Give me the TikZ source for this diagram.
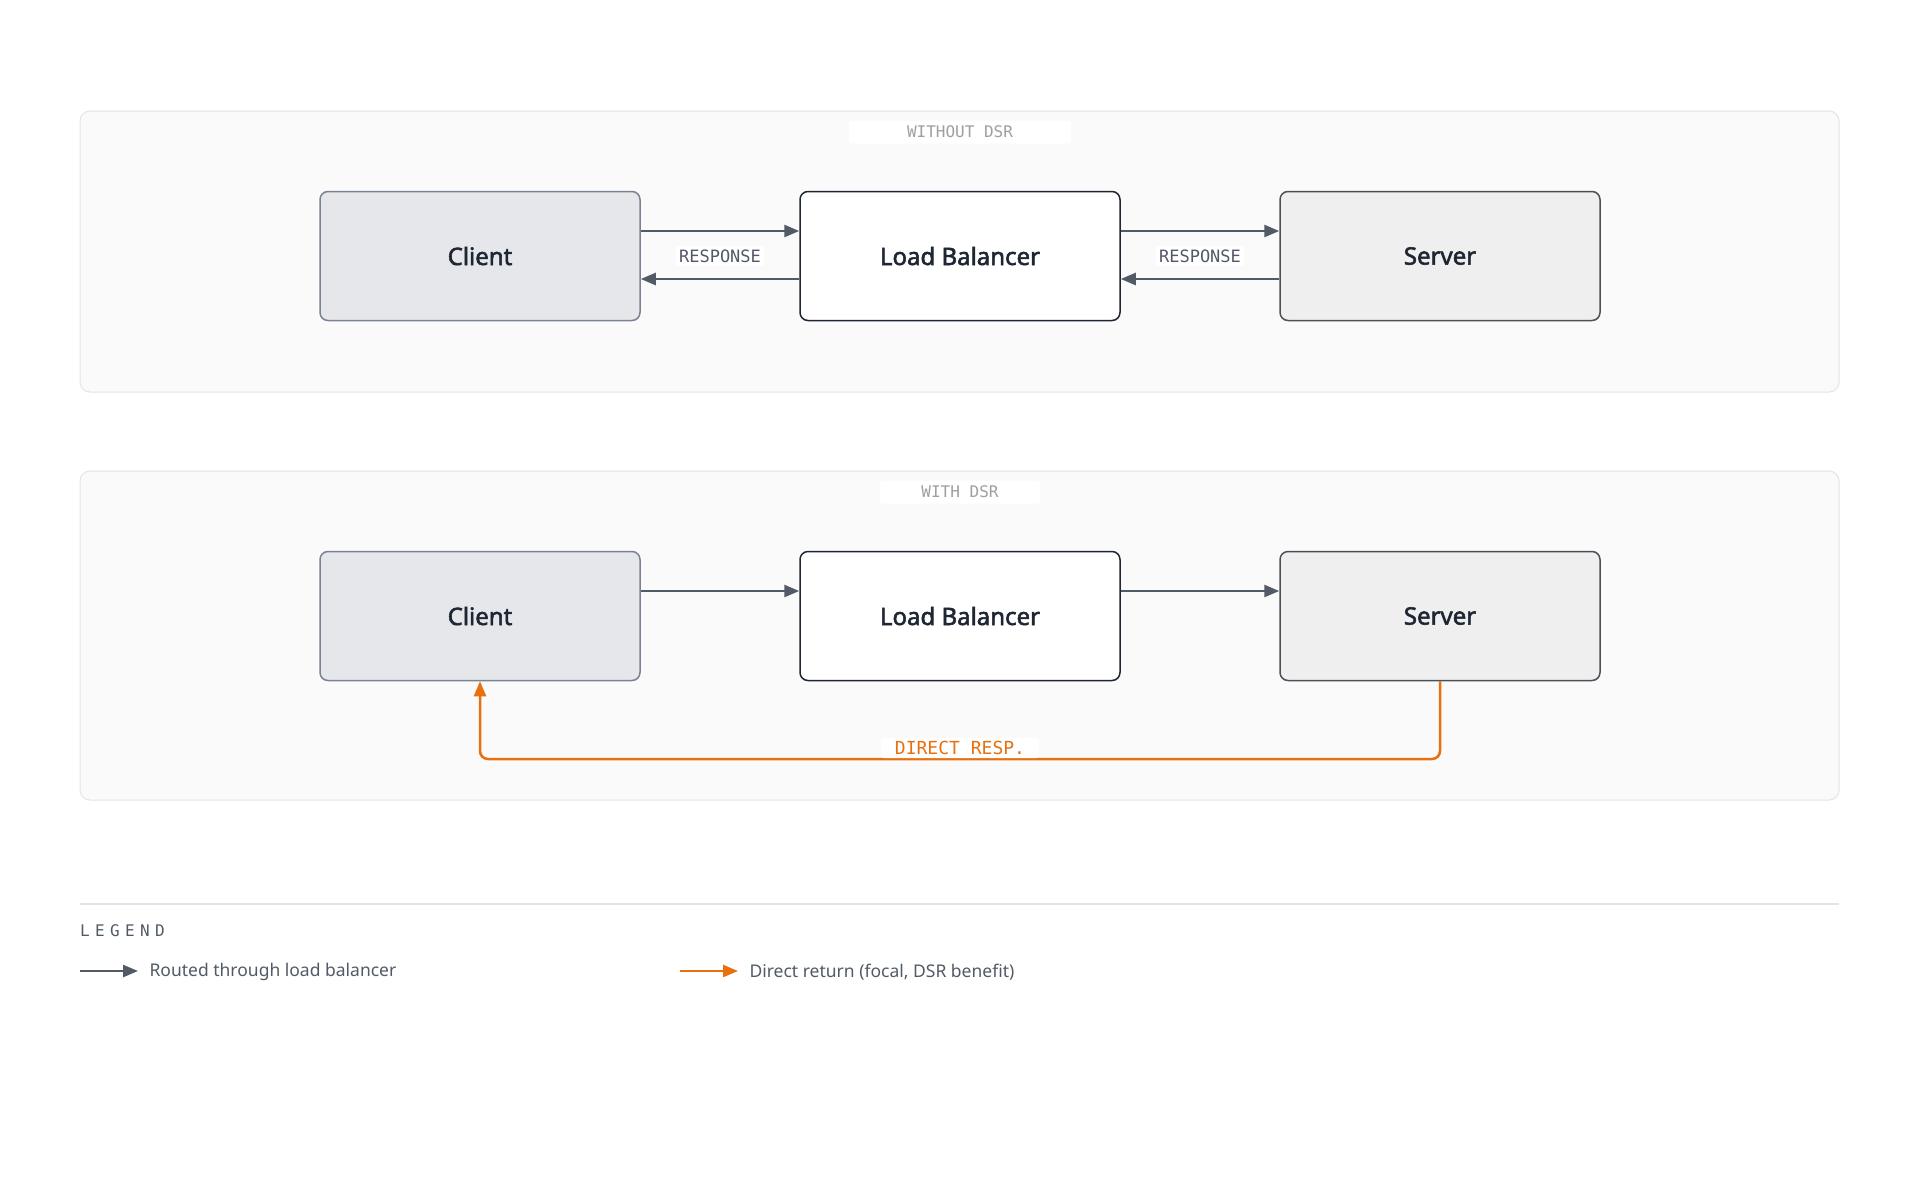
\documentclass[tikz,border=0pt]{standalone}
\usepackage{fontspec}
\setmainfont{Noto Sans}
\newfontfamily\boxfont{Noto Sans}[AutoFakeBold=2.2]
\newfontfamily\monofont{DejaVu Sans Mono}
\usetikzlibrary{arrows.meta,positioning}
\definecolor{panelfill}{HTML}{FAFAFA}
\definecolor{panelline}{HTML}{E4E4E4}
\definecolor{clientfill}{HTML}{E5E7EA}
\definecolor{clientline}{HTML}{7A8394}
\definecolor{lbline}{HTML}{1E2633}
\definecolor{serverfill}{HTML}{EFEFEF}
\definecolor{serverline}{HTML}{4B5058}
\definecolor{routed}{HTML}{525A66}
\definecolor{focal}{HTML}{E8700F}
\definecolor{inktext}{HTML}{1E2633}
\tikzset{
	panel/.style={draw=panelline, fill=panelfill, line width=1pt, rounded corners=10pt},
	box/.style={minimum width=320pt, minimum height=129pt, rounded corners=8pt, line width=1.5pt, text=inktext, font=\boxfont\bfseries\fontsize{24}{28}\selectfont},
	client/.style={box, draw=clientline, fill=clientfill},
	balancer/.style={box, draw=lbline, fill=white},
	server/.style={box, draw=serverline, fill=serverfill},
	tag/.style={fill=white, rounded corners=3pt, font=\monofont\fontsize{16}{18}\selectfont, text=gray!75},
	edgelabel/.style={fill=white, rounded corners=3pt, font=\monofont\fontsize{17}{19}\selectfont, text=routed},
	flow/.style={draw=routed, line width=2.5pt, -{Triangle[length=15pt,width=12pt]}},
	direct/.style={draw=focal, line width=2.5pt, rounded corners=8pt, -{Triangle[length=15pt,width=12pt]}},
	legendtext/.style={anchor=west, font=\fontsize{17.5}{21}\selectfont, text=routed}
}
\begin{document}
\begin{tikzpicture}[x=1pt, y=-1pt]
	\useasboundingbox[fill=white] (0,0) rectangle (1920,1200);
	%without DSR
		\draw[panel] (80,111) rectangle (1839,392);
		\node[tag, minimum width=222pt, minimum height=23pt] (tagA) at (960,132) {WITHOUT DSR};
		\node[client] (clientA) at (480,256) {Client};
		\node[balancer] (lbA) at (960,256) {Load Balancer};
		\node[server] (serverA) at (1440,256) {Server};
		\draw[flow] ([yshift=25pt]clientA.east) -- ([yshift=25pt]lbA.west);
		\draw[flow] ([yshift=-23pt]lbA.west) -- ([yshift=-23pt]clientA.east);
		\draw[flow] ([yshift=25pt]lbA.east) -- ([yshift=25pt]serverA.west);
		\draw[flow] ([yshift=-23pt]serverA.west) -- ([yshift=-23pt]lbA.east);
		\node[edgelabel] (respA) at (720,256) {RESPONSE};
		\node[edgelabel] (respB) at (1200,256) {RESPONSE};
	%with DSR
		\draw[panel] (80,471) rectangle (1839,800);
		\node[tag, minimum width=160pt, minimum height=23pt] (tagB) at (960,492) {WITH DSR};
		\node[client] (clientB) at (480,616) {Client};
		\node[balancer] (lbB) at (960,616) {Load Balancer};
		\node[server] (serverB) at (1440,616) {Server};
		\draw[flow] ([yshift=25pt]clientB.east) -- ([yshift=25pt]lbB.west);
		\draw[flow] ([yshift=25pt]lbB.east) -- ([yshift=25pt]serverB.west);
		\draw[direct] (serverB.south) -- (1440,759) -- (480,759) -- (clientB.south);
		\node[edgelabel, text=focal, minimum width=158pt, font=\monofont\fontsize{18}{20}\selectfont] (respC) at (960,748) {DIRECT RESP.};
	%legend
		\draw[panelline, line width=1.5pt] (80,904) -- (1839,904);
		\node[anchor=west, inner sep=0pt, font=\monofont\fontsize{16}{18}\selectfont, text=routed] (legend) at (80,931) {L\,\,E\,\,G\,\,E\,\,N\,\,D};
		\coordinate (grayA) at (80,971);
		\coordinate (grayB) at (138,971);
		\draw[flow] (grayA) -- (grayB);
		\node[legendtext] (routedtext) at (146,972) {Routed through load balancer};
		\coordinate (orangeA) at (680,971);
		\coordinate (orangeB) at (738,971);
		\draw[direct] (orangeA) -- (orangeB);
		\node[legendtext] (directtext) at (746,972) {Direct return (focal, DSR benefit)};
\end{tikzpicture}
\end{document}
